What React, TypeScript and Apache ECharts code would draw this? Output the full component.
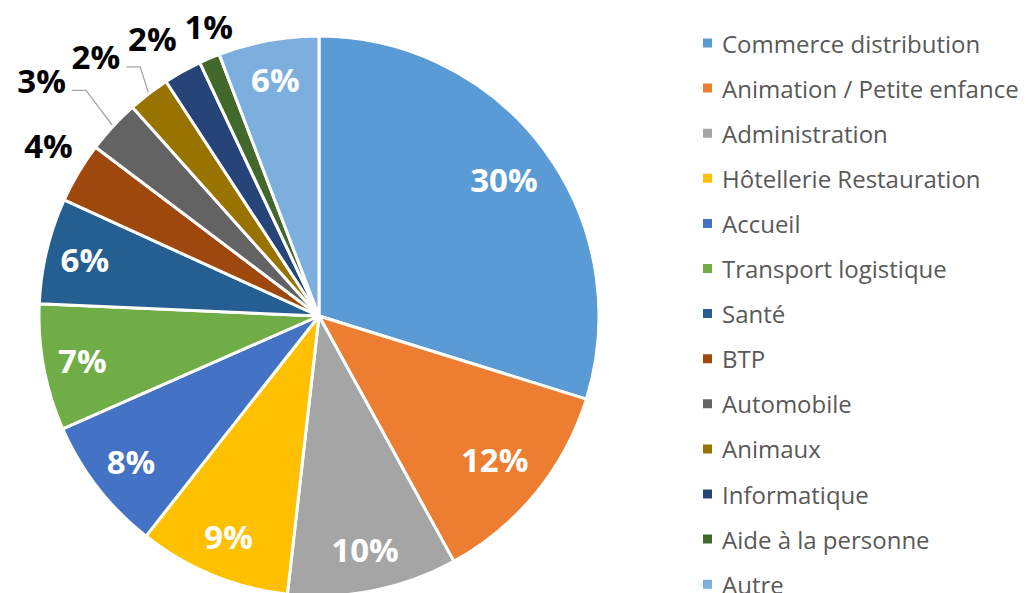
import React, { useEffect, useRef } from "react";
import * as echarts from "echarts";

const categories = [
  "Commerce distribution",
  "Animation / Petite enfance",
  "Administration",
  "Hôtellerie Restauration",
  "Accueil",
  "Transport logistique",
  "Santé",
  "BTP",
  "Automobile",
  "Animaux",
  "Informatique",
  "Aide à la personne",
  "Autre",
];
const values = [29.8, 12.2, 9.8, 8.8, 7.8, 7.3, 6.1, 3.5, 3.1, 2.4, 2.2, 1.2, 5.8];
const percentLabels = ["30%", "12%", "10%", "9%", "8%", "7%", "6%", "4%", "3%", "2%", "2%", "1%", "6%"];

const colors = [
  "#5B9BD5", "#ED7D31", "#A5A5A5", "#FFC000", "#4472C4", "#70AD47",
  "#255E91", "#9E480E", "#636363", "#997300", "#264478", "#43682B", "#7CAFDD",
];
// label placement (styling): radius factor, angle offset in degrees
const labelRadius = [0.82, 0.81, 0.85, 0.85, 0.85, 0.86, 0.86, 1.143, 1.3, 1.221, 1.157, 1.107, 0.86];
const labelAngleOffset = [0, 0, 0, 0, 0, 0, 0, 1.5, -2.3, -3.3, -1.8, 2.2, 0];
const outside = [false, false, false, false, false, false, false, true, true, true, true, true, false];
const withLine = [false, false, false, false, false, false, false, false, true, true, false, false, false];

const CX = 319;
const CY = 316;
const R = 280;

export default function App() {
  const ref = useRef<HTMLDivElement>(null);
  useEffect(() => {
    const chart = echarts.init(ref.current!, null, { renderer: "svg" });
    const total = values.reduce((a, b) => a + b, 0);
    const mids: number[] = [];
    let acc = 0;
    values.forEach((v) => {
      mids.push(((acc + v / 2) / total) * Math.PI * 2);
      acc += v;
    });
    const polar = (ang: number, r: number) => [CX + r * Math.sin(ang), CY - r * Math.cos(ang)];

    chart.setOption({
      animation: false,
      color: colors,
      legend: {
        orient: "vertical",
        left: 696,
        top: 26,
        height: 800,
        itemWidth: 11,
        itemHeight: 11,
        itemGap: 21.1,
        icon: "rect",
        textStyle: {
          fontFamily: "Open Sans",
          fontSize: 24,
          lineHeight: 24,
          color: "#595959",
          padding: [0, 0, 0, 4],
        },
        data: categories,
      },
      series: [
        {
          type: "pie",
          center: [CX, CY],
          radius: [0, R],
          startAngle: 90,
          clockwise: true,
          avoidLabelOverlap: false,
          itemStyle: { borderColor: "#ffffff", borderWidth: 3 },
          label: {
            show: true,
            position: "outside",
            fontFamily: "Open Sans",
            fontWeight: "bold",
            fontSize: 33,
            formatter: (p: any) => percentLabels[p.dataIndex],
          },
          labelLine: { show: false },
          labelLayout: (p: any) => {
            const i = p.dataIndex;
            const ang = mids[i] + (labelAngleOffset[i] * Math.PI) / 180;
            const [x, y] = polar(ang, R * labelRadius[i]);
            const res: any = { x, y, align: "center", verticalAlign: "middle" };
            if (withLine[i]) {
              const e = polar(mids[i], R);
              const lx = x + p.labelRect.width / 2 + 6;
              const ly = y + 10;
              res.labelLinePoints = [
                [lx, ly],
                [lx + 14, ly],
                e,
              ];
            }
            return res;
          },
          data: categories.map((name, i) => ({
            name,
            value: values[i],
            label: {
              color: outside[i] ? "#000000" : "#ffffff",
            },
            labelLine: withLine[i]
              ? { show: true, lineStyle: { color: "#A6A6A6", width: 1.3 } }
              : { show: false },
          })),
        },
      ],
    });
    return () => chart.dispose();
  }, []);
  return (
    <div
      ref={ref}
      style={{ position: "fixed", left: 0, top: 0, width: 1033, height: 593, background: "#fff" }}
    />
  );
}
